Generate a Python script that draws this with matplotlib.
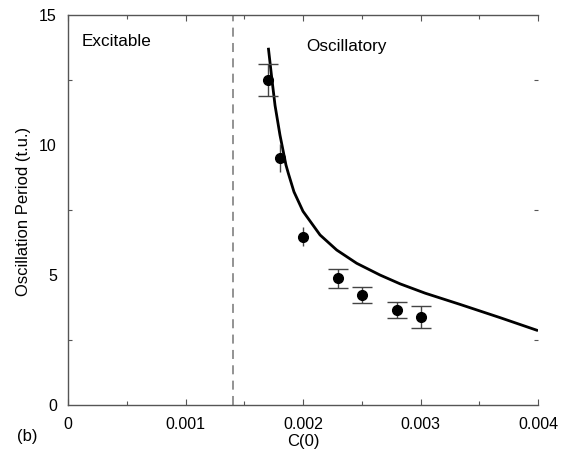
import matplotlib
matplotlib.use("Agg")
import matplotlib.pyplot as plt
from matplotlib.ticker import MultipleLocator, FixedLocator

plt.rcParams['font.family'] = ['Liberation Sans', 'DejaVu Sans']

# Measured oscillation periods
c0 = [0.0017, 0.0018, 0.0020, 0.0023, 0.0025, 0.0028, 0.0030]
period = [12.5, 9.5, 6.47, 4.88, 4.23, 3.65, 3.38]
period_err = [0.6, 0.55, 0.36, 0.37, 0.29, 0.31, 0.42]

# Theoretical period curve
curve_c0 = [0.001705, 0.001733, 0.001762, 0.001804, 0.001855, 0.001875,
            0.001923, 0.002000, 0.002145, 0.002287, 0.002457,
            0.002655, 0.002826, 0.003040, 0.003336, 0.003677, 0.0040]
curve_period = [13.74, 12.62, 11.52, 10.38, 9.23, 8.91,
                8.20, 7.45, 6.54, 5.96, 5.45,
                5.00, 4.66, 4.30, 3.87, 3.36, 2.86]

# Boundary between excitable and oscillatory regimes
c0_boundary = 0.0014

xticks = [0, 0.001, 0.002, 0.003, 0.004]
xticklabels = ['0', '0.001', '0.002', '0.003', '0.004']
yticks = [0, 5, 10, 15]

fig = plt.figure(figsize=(5.7, 4.55), dpi=100)
ax = fig.add_axes([0.1193, 0.1099, 0.8246, 0.8571])

ax.axvline(c0_boundary, color='#8a8a8a', lw=1.3, dashes=(5, 3.5))
ax.plot(curve_c0, curve_period, color='black', lw=2.0,
        solid_capstyle='butt', solid_joinstyle='round')

capped = [0, 3, 4, 5, 6]
uncapped = [1, 2]
ax.errorbar([c0[i] for i in capped], [period[i] for i in capped],
            yerr=[period_err[i] for i in capped], fmt='none',
            ecolor='#444444', elinewidth=1.0, capsize=7.5, capthick=1.0)
ax.errorbar([c0[i] for i in uncapped], [period[i] for i in uncapped],
            yerr=[period_err[i] for i in uncapped], fmt='none',
            ecolor='#444444', elinewidth=1.0, capsize=0)
ax.plot(c0, period, 'o', color='black', markersize=7, zorder=5)

ax.set_xlim(0, 0.004)
ax.set_ylim(0, 15)
ax.set_xticks(xticks)
ax.set_xticklabels(xticklabels)
ax.set_yticks(yticks)
ax.xaxis.set_minor_locator(MultipleLocator(0.0005))
ax.yaxis.set_minor_locator(FixedLocator([2.5, 7.5, 12.5]))

ax.tick_params(axis='both', which='both', direction='in', top=True, right=True,
               colors='#555555', labelcolor='black', labelsize=11.5, width=0.8)
ax.tick_params(axis='x', which='major', length=4, pad=9)
ax.tick_params(axis='x', which='minor', length=3)
ax.tick_params(axis='y', which='major', length=0, pad=8)
ax.tick_params(axis='y', which='minor', length=3)

for side in ['left', 'bottom', 'top']:
    ax.spines[side].set_color('#555555')
    ax.spines[side].set_linewidth(1.0)
ax.spines['right'].set_visible(False)

ax.set_xlabel('C(0)', fontsize=12, labelpad=1)
ax.set_ylabel('Oscillation Period (t.u.)', fontsize=12)
ax.yaxis.set_label_coords(-0.079, 0.497)

ax.text(0.00012, 13.98, 'Excitable', fontsize=12.3, va='center', ha='left')
ax.text(0.00203, 13.78, 'Oscillatory', fontsize=12.3, va='center', ha='left')
fig.text(17 / 570, 1 - 437 / 455, '(b)', fontsize=12, va='center', ha='left')

fig.savefig('out.png', dpi=100)
